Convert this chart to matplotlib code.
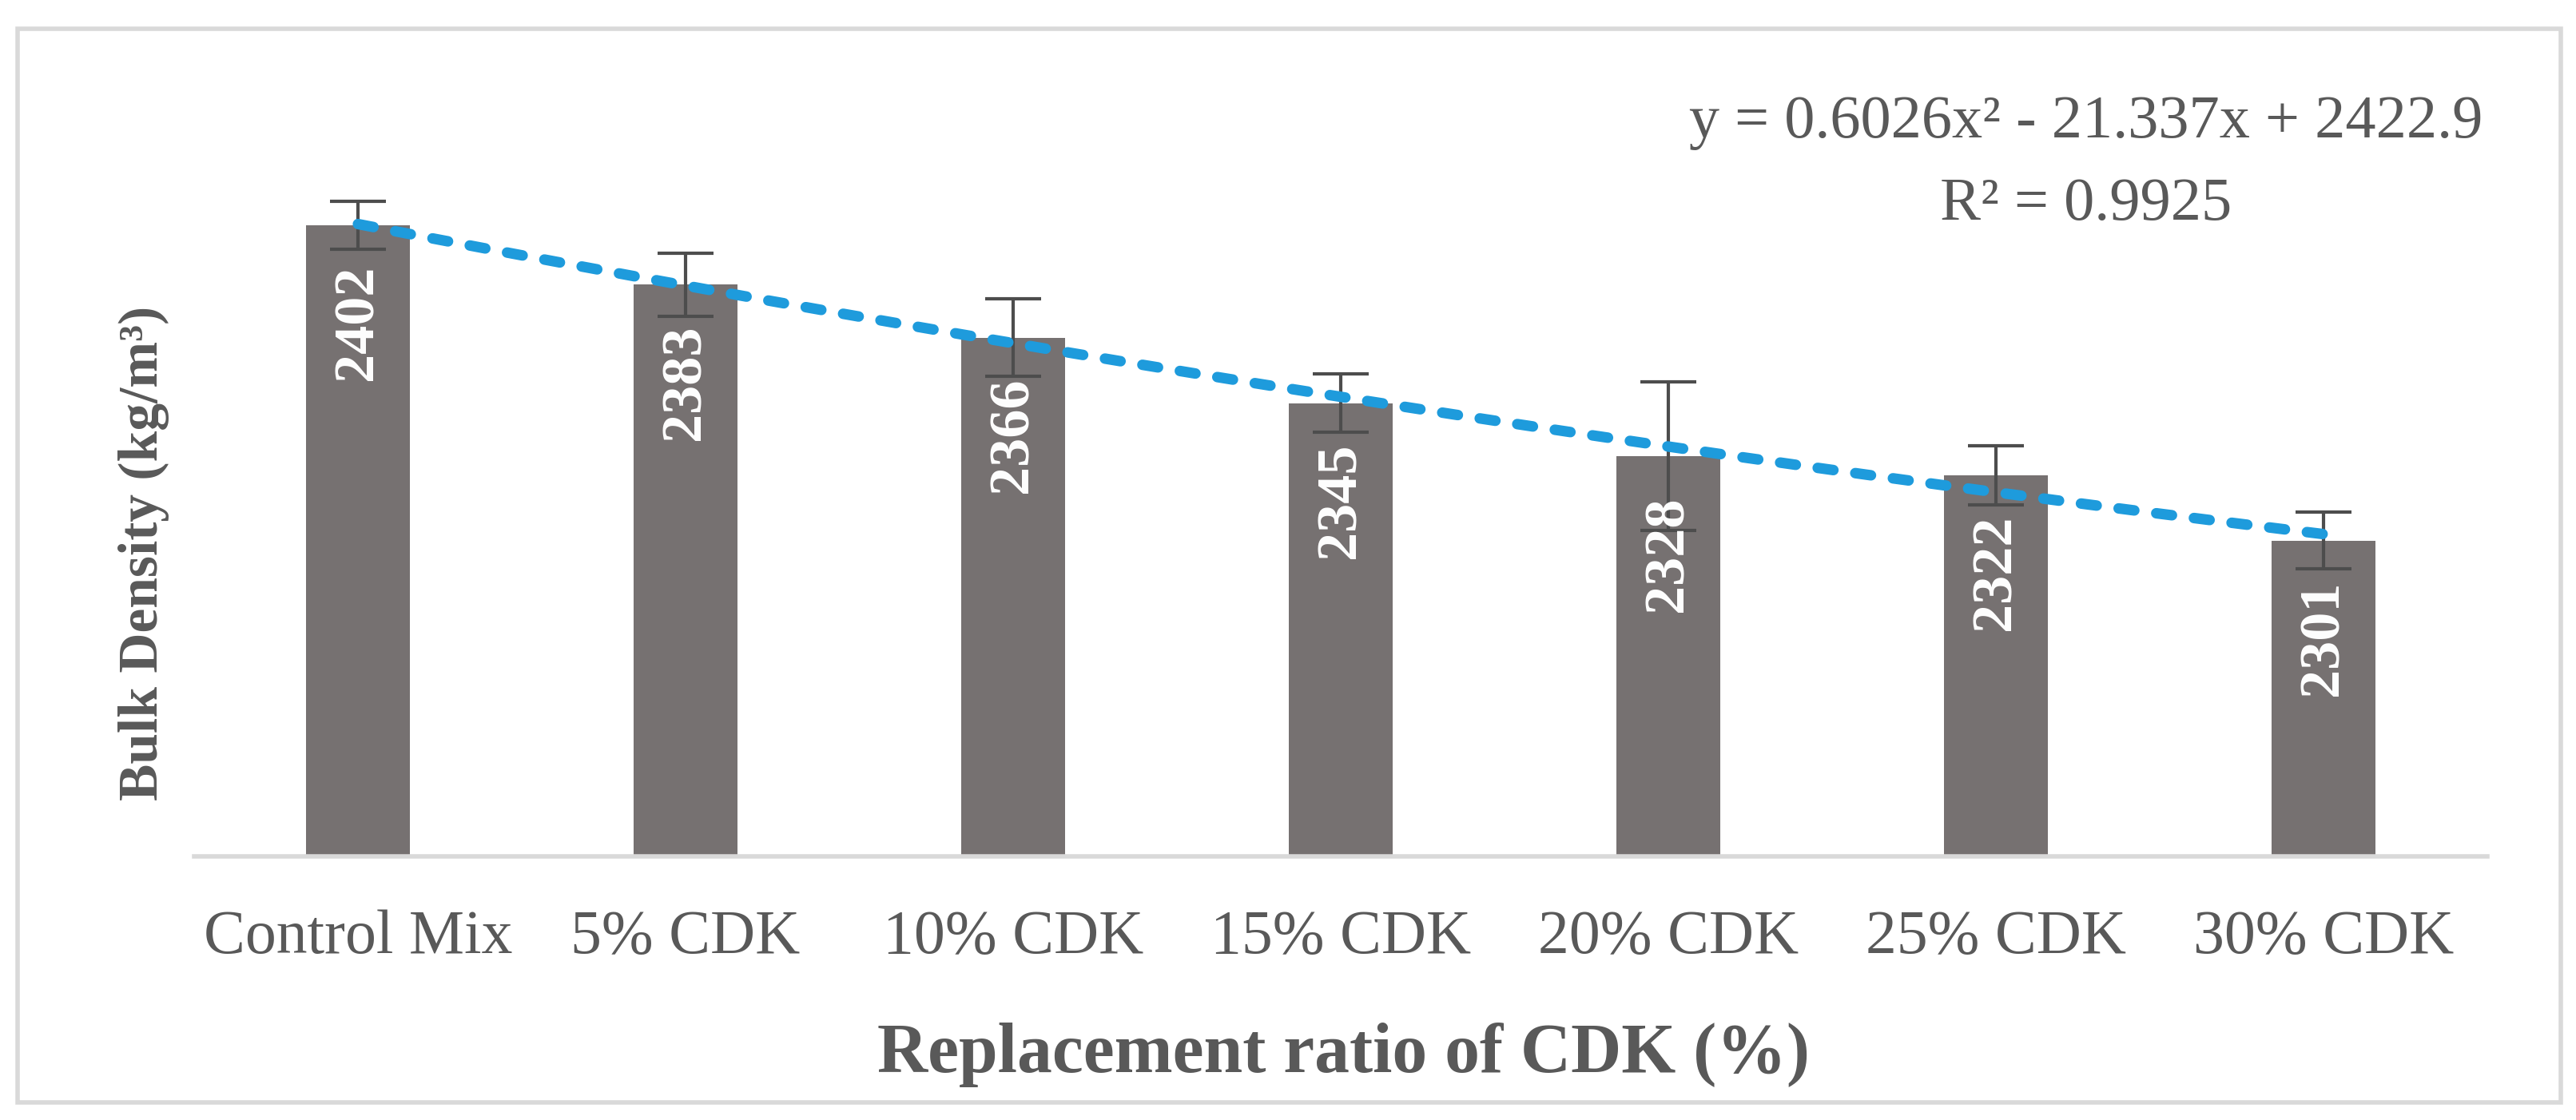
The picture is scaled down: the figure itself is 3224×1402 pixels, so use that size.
import matplotlib
matplotlib.use('Agg')
import matplotlib.pyplot as plt
from matplotlib.patches import Rectangle
import numpy as np

categories = ['Control Mix', '5% CDK', '10% CDK', '15% CDK', '20% CDK', '25% CDK', '30% CDK']
density = [2402, 2383, 2366, 2345, 2328, 2322, 2301]
errors = [7.6, 10.1, 12.3, 9.3, 23.8, 9.5, 9.1]

W, H = 3224, 1402
plt.rcParams['font.family'] = ['Liberation Serif', 'DejaVu Serif']
text_gray = '#595959'

fig = plt.figure(figsize=(W / 100, H / 100), dpi=100)
fig.patch.set_facecolor('white')

# outer chart frame
fig.patches.append(Rectangle((22 / W, 22 / H), (3205 - 22) / W, (1384 - 18 - 22) / H,
                             transform=fig.transFigure, fill=False,
                             edgecolor='#D9D9D9', linewidth=4))

ax = fig.add_axes([243 / W, (H - 1072) / H, (3113 - 243) / W, (1072 - 94) / H])
x = np.arange(len(categories))

ax.bar(x, [d - 2200 for d in density], bottom=2200, width=0.315, color='#767171', zorder=2)
ax.errorbar(x, density, yerr=errors, fmt='none', ecolor='#4D4D4D',
            elinewidth=3, capsize=25, capthick=3, zorder=4)

# polynomial (order 2) trendline, Excel style x = 1..7
coef = np.polyfit(x + 1, density, 2)
xs = np.linspace(1, len(categories), 200)
ax.plot(xs - 1, np.polyval(coef, xs), color='#1E9BDC', linewidth=9.5,
        linestyle=(0, (1.5, 2.1)), dash_capstyle='round', zorder=5)

for i, d in enumerate(density):
    ax.annotate(str(d), xy=(i, d), xytext=(0, -36), textcoords='offset points',
                ha='center', va='top', rotation=90, color='white',
                fontsize=52, fontweight='bold', zorder=6)

ax.set_xlim(-0.5, len(categories) - 0.5)
ax.set_ylim(2200, 2450)
ax.set_xticks(x)
ax.set_xticklabels(categories, fontsize=56, color=text_gray)
ax.tick_params(axis='x', length=0, pad=48)
ax.set_yticks([])
for s in ['top', 'right', 'left']:
    ax.spines[s].set_visible(False)
ax.spines['bottom'].set_color('#D9D9D9')
ax.spines['bottom'].set_linewidth(4)
ax.patch.set_alpha(0)

fig.text(1682 / W, (H - 1342) / H, 'Replacement ratio of CDK (%)', ha='center', va='baseline',
         fontsize=63, fontweight='bold', color=text_gray)
fig.text(180 / W, (H - 692) / H, 'Bulk Density (kg/m³)', ha='center', va='center',
         rotation=90, fontsize=50, fontweight='bold', color=text_gray)

fig.text(2611 / W, (H - 172) / H, 'y = 0.6026x² - 21.337x + 2422.9', ha='center', va='baseline',
         fontsize=55, color=text_gray)
fig.text(2611 / W, (H - 275) / H, 'R² = 0.9925', ha='center', va='baseline',
         fontsize=55, color=text_gray)

fig.savefig('out.png', dpi=100, facecolor='white')
